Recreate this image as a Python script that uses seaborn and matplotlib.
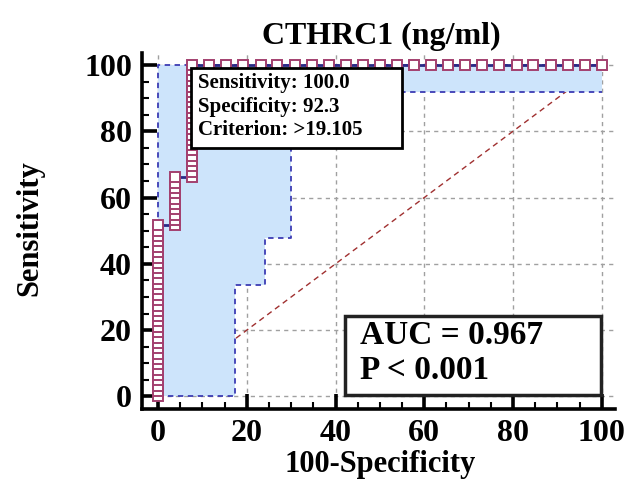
import numpy as np
import pandas as pd
import matplotlib
matplotlib.use("Agg")
import matplotlib.pyplot as plt
from matplotlib.patches import Rectangle
from matplotlib.ticker import MultipleLocator
import seaborn as sns

# ---- data ----
col_fpr = [0.0, 3.85, 7.69]          # x positions of the three vertical runs
col1_tpr = [0.0, 1.6, 3.2, 4.8, 6.5, 8.1, 9.7, 11.3, 12.9, 14.5, 16.1, 17.7, 19.4,
            21.0, 22.6, 24.2, 25.8, 27.4, 29.0, 30.6, 32.3, 33.9, 35.5, 37.1, 38.7,
            40.3, 41.9, 43.5, 45.2, 46.8, 48.4, 50.0, 51.6]
col2_tpr = [51.6, 53.2, 54.8, 56.5, 58.1, 59.7, 61.3, 62.9, 64.5, 66.1]
col3_tpr = [66.1, 67.7, 69.4, 71.0, 72.6, 74.2, 75.8, 77.4, 79.0, 80.6, 82.3, 83.9,
            85.5, 87.1, 88.7, 90.3, 91.9, 93.5, 95.2, 96.8, 98.4, 100.0]
top_fpr = [11.5, 15.4, 19.2, 23.1, 26.9, 30.8, 34.6, 38.5, 42.3, 46.2, 50.0, 53.8,
           57.7, 61.5, 65.4, 69.2, 73.1, 76.9, 80.8, 84.6, 88.5, 92.3, 96.2, 100.0]
top_tpr = 100.0

upper_x = [0.0, 0.0, 100.0]
upper_y = [0.0, 100.0, 100.0]
lower_x = [0.0, 17.3, 17.3, 24.1, 24.1, 29.9, 29.9, 100.0]
lower_y = [0.0, 0.0, 33.6, 33.6, 47.9, 47.9, 91.8, 91.8]

ticks = [0, 20, 40, 60, 80, 100]
title = "CTHRC1 (ng/ml)"
info_lines = ["Sensitivity: 100.0", "Specificity: 92.3", "Criterion: >19.105"]
stat_lines = ["AUC = 0.967", "P < 0.001"]

# ---- build ROC path ----
fpr = ([col_fpr[0]] * len(col1_tpr) + [col_fpr[1]] * len(col2_tpr)
       + [col_fpr[2]] * len(col3_tpr) + top_fpr)
tpr = col1_tpr + col2_tpr + col3_tpr + [top_tpr] * len(top_fpr)
df = pd.DataFrame({"fpr": fpr, "tpr": tpr, "order": np.arange(len(fpr))})

sns.set_style("white")
plt.rcParams["font.family"] = ["Liberation Serif", "DejaVu Serif"]
plt.rcParams["font.weight"] = "bold"
plt.rcParams["text.color"] = "black"
plt.rcParams["axes.labelcolor"] = "black"
plt.rcParams["xtick.color"] = "black"
plt.rcParams["ytick.color"] = "black"

fig = plt.figure(figsize=(6.31, 4.80), dpi=100)
ax = fig.add_axes([0.2246, 0.1473, 0.7501, 0.7415])
ax.set_xlim(-3.7, 103)
ax.set_ylim(-3.9, 103.5)

# grid
for t in ticks:
    ax.axvline(t, color="#a0a0a0", lw=1.0, ls=(0, (3, 3)), zorder=0.5)
    ax.axhline(t, color="#a0a0a0", lw=1.0, ls=(0, (3, 3)), zorder=0.5)

# diagonal
ax.plot([0, 100], [0, 100], color="#a03030", lw=1.0, ls=(0, (4, 3)), zorder=1)

# confidence band
poly_x = upper_x + lower_x[::-1]
poly_y = upper_y + lower_y[::-1]
ax.fill(poly_x, poly_y, color="#cde4fb", lw=0, zorder=2)
ax.plot(upper_x, upper_y, color="#3c3cb4", lw=1.3, ls=(0, (3, 2.5)), zorder=2.5)
ax.plot(lower_x, lower_y, color="#3c3cb4", lw=1.3, ls=(0, (3, 2.5)), zorder=2.5)

# ROC curve
sns.lineplot(data=df, x="fpr", y="tpr", estimator=None, sort=False, ax=ax,
             color="#2a2a86", lw=2.0, marker="s", markersize=7.0,
             markerfacecolor="white", markeredgecolor="#a3406f",
             markeredgewidth=1.4, zorder=3)

# info box
ax.add_patch(Rectangle((7.5, 75.0), 47.5, 24.2, facecolor="white",
                       edgecolor="black", lw=2.0, zorder=5))
for i, s in enumerate(info_lines):
    ax.text(9.0, 94.5 - i * 7.1, s, fontsize=15, fontweight="bold",
            color="black", va="center", ha="left", zorder=6)

# AUC box
ax.add_patch(Rectangle((42.1, 0.4), 57.7, 24.0, facecolor="white",
                       edgecolor="#222222", lw=2.5, zorder=5))
for i, s in enumerate(stat_lines):
    ax.text(45.5, 18.3 - i * 10.5, s, fontsize=24, fontweight="bold",
            color="black", va="center", ha="left", zorder=6)

# axes styling
for side in ["top", "right"]:
    ax.spines[side].set_visible(False)
for side in ["left", "bottom"]:
    ax.spines[side].set_linewidth(2.6)
    ax.spines[side].set_color("black")
ax.set_xticks(ticks)
ax.set_yticks(ticks)
ax.xaxis.set_minor_locator(MultipleLocator(5))
ax.yaxis.set_minor_locator(MultipleLocator(5))
ax.tick_params(which="major", direction="in", length=11, width=2.6,
               labelsize=23, pad=7, colors="black")
ax.tick_params(which="minor", direction="in", length=5, width=1.5, colors="black")
ax.tick_params(left=True, bottom=True, which="both")
for lab in ax.get_xticklabels() + ax.get_yticklabels():
    lab.set_fontweight("bold")
ax.set_xlabel("")
ax.set_ylabel("")

fig.text(0.604, 1 - 44 / 480, title, fontsize=23, fontweight="bold",
         color="black", ha="center", va="baseline")
fig.text(30 / 631, 1 - 228 / 480, "Sensitivity", fontsize=22, fontweight="bold",
         color="black", rotation=90, ha="center", va="center")
fig.text(0.603, 1 - 472 / 480, "100-Specificity", fontsize=22, fontweight="bold",
         color="black", ha="center", va="baseline")

fig.savefig("out.png", dpi=100)
